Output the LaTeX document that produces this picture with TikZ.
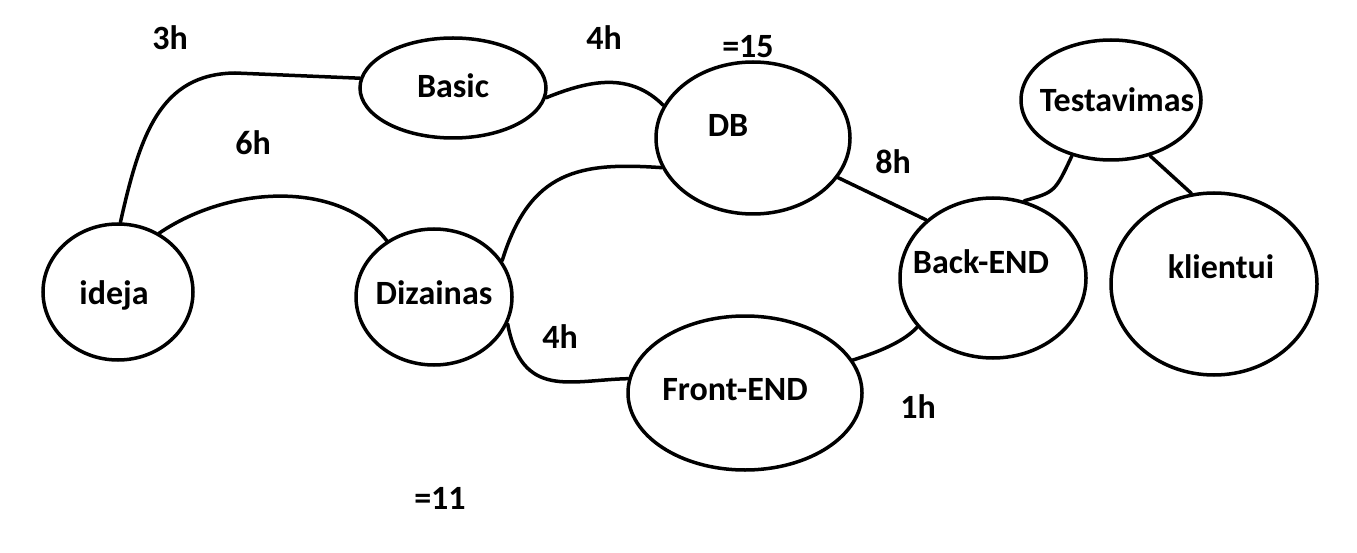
\documentclass[tikz,border=0pt]{standalone}
\usepackage{fontspec}
\setmainfont{Carlito}
\usetikzlibrary{shapes.geometric}

\begin{document}
\begin{tikzpicture}[x=1pt,y={(0pt,-1pt)},font=\fontsize{34}{38}\selectfont\bfseries,
  stage/.style={draw,ellipse,line width=3.5pt,inner sep=0pt},
  link/.style={line width=3.5pt,line cap=round},
  cost/.style={inner sep=0pt}]
\useasboundingbox (0,0) rectangle (1357,553);
\node[stage,minimum width=150pt,minimum height=136pt,label={[xshift=-4pt,yshift=-3pt]center:ideja}] (ideja) at (118,292) {};
\node[stage,minimum width=186pt,minimum height=100pt,label={[yshift=2pt]center:Basic}] (basic) at (453,88) {};
\node[stage,minimum width=194pt,minimum height=152pt,label={[xshift=-25pt,yshift=13pt]center:DB}] (db) at (753,138) {};
\node[stage,minimum width=156pt,minimum height=136pt,label={[yshift=4pt]center:Dizainas}] (diz) at (434,297) {};
\node[stage,minimum width=234pt,minimum height=154pt,label={[xshift=-10pt,yshift=3pt]center:Front-END}] (front) at (745,393) {};
\node[stage,minimum width=186pt,minimum height=160pt,label={[xshift=-12pt,yshift=16pt]center:Back-END}] (back) at (993,278) {};
\node[stage,minimum width=180pt,minimum height=120pt,label={[xshift=6pt]center:Testavimas}] (test) at (1111,100) {};
\node[stage,minimum width=206pt,minimum height=182pt,label={[xshift=7pt,yshift=17pt]center:klientui}] (klient) at (1214,284) {};
% hours
\node[cost] (h3) at (170,38) {3h};
\node[cost] (h4a) at (604,38) {4h};
\node[cost] (sum15) at (748,47) {=15};
\node[cost] (h6) at (253,143) {6h};
\node[cost] (h8) at (893,162) {8h};
\node[cost] (h4b) at (560,337) {4h};
\node[cost] (h1) at (918,407) {1h};
\node[cost] (sum11) at (440,498) {=11};
% links
\draw[link] (ideja.88) .. controls (140,135) and (160,74) .. (235,73) -- (basic.174);
\draw[link] (ideja.55) .. controls (230,185) and (340,180) .. (diz.130);
\draw[link] (basic.-6) .. controls (590,80) and (630,72) .. (db.160);
\draw[link] (diz.28) .. controls (530,170) and (580,162) .. (db.198);
\draw[link] (diz.-20) .. controls (522,400) and (570,380) .. (front.173);
\draw[link] (db.-25) -- (back.139);
\draw[link] (front.17) .. controls (885,350) and (905,340) .. (back.213);
\draw[link] (test.235) .. controls (1055,192) .. (back.68);
\draw[link] (test.-55) -- (klient.104);
\end{tikzpicture}
\end{document}
